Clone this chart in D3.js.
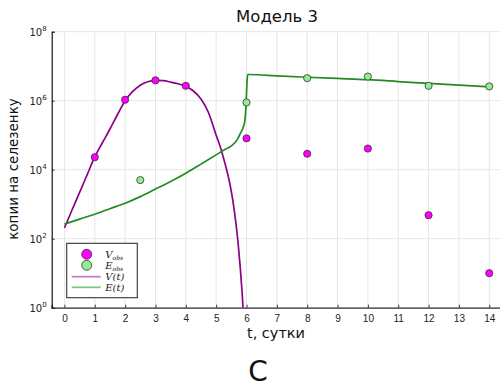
<!doctype html>
<html>
<head>
  <meta charset="utf-8">
  <style>
    body { margin:0; background:#fff; }
    svg { display:block; font-family:"DejaVu Sans", sans-serif; }
    .grid line { stroke:#e6e6e6; stroke-width:1; }
    .tick text { font-size:10px; fill:#222; }
  </style>
  <script src="https://cdn.jsdelivr.net/npm/d3@7"></script>
</head>
<body>
  <script>
    // observations
    var vObsT = [1, 2, 3, 4, 6, 8, 10, 12, 14];
    var vObs  = [2.3e4, 1.07e6, 3.9e6, 2.7e6, 8.1e4, 2.9e4, 4.1e4, 480, 10];
    var eObsT = [2.5, 6, 8, 10, 12, 14];
    var eObs  = [5.0e3, 8.9e5, 4.5e6, 5.0e6, 2.7e6, 2.6e6];

    // model curves V(t), E(t)
    var vT = [0,0.25,0.5,0.75,1,1.25,1.5,1.75,2,2.25,2.5,2.75,3,3.25,3.5,3.75,4,4.25,4.5,4.75,5,5.15,5.3,5.45,5.55,5.65,5.72,5.79,5.85,5.9];
    var vT_vals = [205,680,2200,7200,23400,60300,151000,398000,1.0e6,1.86e6,2.82e6,3.55e6,3.89e6,3.8e6,3.47e6,3.09e6,2.63e6,1.91e6,1.12e6,4.47e5,1.0e5,4.17e4,1.41e4,3980,1260,282,79,16,3.2,0.63];
    var eT = [0,0.5,1,1.5,2,2.5,3,3.5,4,4.5,5,5.3,5.5,5.7,5.8,5.9,5.95,5.98,6.0,6.02,6.04,6.1,7,8,9,10,11,12,13,14];
    var eT_vals = [265,370,513,741,1070,1660,2750,4570,7940,14500,26900,38900,49000,75900,115000,178000,282000,631000,1.58e6,3.98e6,5.75e6,5.75e6,5.25e6,4.79e6,4.42e6,4.07e6,3.59e6,3.16e6,2.82e6,2.51e6];

    var xTicks = d3.range(0, 15);
    var yTicks = [1, 1e2, 1e4, 1e6, 1e8];
    var yExp   = ["0", "2", "4", "6", "8"];

    var W = 500, H = 388;
    var pLeft = 51.7, pRight = 502, pTop = 31.7, pBottom = 307.7;

    var x = d3.scaleLinear().domain([-0.42, 14.42]).range([pLeft, pRight]);
    var y = d3.scaleLog().domain([1, 1e8]).range([pBottom, pTop]);

    var svg = d3.select("body").append("svg")
       .attr("width", W).attr("height", H);

    svg.append("clipPath").attr("id", "plotclip")
       .append("rect")
       .attr("x", pLeft).attr("y", pTop)
       .attr("width", pRight - pLeft).attr("height", pBottom - pTop);

    // grid
    var grid = svg.append("g").attr("class", "grid");
    grid.selectAll(".gx").data(xTicks).enter().append("line")
       .attr("x1", function(d) { return x(d); })
       .attr("x2", function(d) { return x(d); })
       .attr("y1", pTop).attr("y2", pBottom);
    grid.selectAll(".gy").data(yTicks).enter().append("line")
       .attr("x1", pLeft).attr("x2", pRight)
       .attr("y1", function(d) { return y(d); })
       .attr("y2", function(d) { return y(d); });

    // axes
    var xAxis = svg.append("g")
       .attr("transform", "translate(0," + pBottom + ")")
       .call(d3.axisBottom(x).tickValues(xTicks).tickSize(-3).tickPadding(7).tickFormat(d3.format("d")));
    xAxis.select(".domain").attr("stroke", "#333").attr("stroke-width", 1.3);
    xAxis.selectAll(".tick line").attr("stroke", "#333");

    var yAxis = svg.append("g")
       .attr("transform", "translate(" + pLeft + ",0)")
       .call(d3.axisLeft(y).tickValues(yTicks).tickSize(-3).tickFormat(""));
    yAxis.select(".domain").attr("stroke", "#000").attr("stroke-width", 1.1);
    yAxis.selectAll(".tick line").attr("stroke", "#333");

    var yl = svg.append("g").selectAll("text").data(yTicks).enter().append("text")
       .attr("x", pLeft - 5)
       .attr("y", function(d) { return y(d) + 4; })
       .attr("text-anchor", "end")
       .style("font-size", "10px").style("fill", "#222");
    yl.append("tspan").text("10");
    yl.append("tspan").attr("dy", -5).style("font-size", "7px")
       .text(function(d, i) { return yExp[i]; });

    // curves
    var line = d3.line()
       .x(function(d) { return x(d[0]); })
       .y(function(d) { return y(d[1]); })
       .curve(d3.curveMonotoneX);

    var curves = svg.append("g").attr("clip-path", "url(#plotclip)");
    curves.append("path")
       .datum(d3.zip(vT, vT_vals))
       .attr("d", line)
       .attr("fill", "none").attr("stroke", "#8b008b").attr("stroke-width", 1.7);
    curves.append("path")
       .datum(d3.zip(eT, eT_vals))
       .attr("d", line)
       .attr("fill", "none").attr("stroke", "#228b22").attr("stroke-width", 1.7);

    // points
    svg.append("g").selectAll("circle").data(d3.zip(vObsT, vObs)).enter().append("circle")
       .attr("cx", function(d) { return x(d[0]); })
       .attr("cy", function(d) { return y(d[1]); })
       .attr("r", 3.6)
       .attr("fill", "#ff00ff").attr("stroke", "#333").attr("stroke-width", 0.8);
    svg.append("g").selectAll("circle").data(d3.zip(eObsT, eObs)).enter().append("circle")
       .attr("cx", function(d) { return x(d[0]); })
       .attr("cy", function(d) { return y(d[1]); })
       .attr("r", 3.6)
       .attr("fill", "#90ee90").attr("stroke", "#333").attr("stroke-width", 0.8);

    // legend
    var lg = svg.append("g");
    lg.append("rect")
       .attr("x", 66.7).attr("y", 243.3).attr("width", 70.6).attr("height", 54.4)
       .attr("fill", "#fff").attr("stroke", "#333").attr("stroke-width", 1.1);
    lg.append("circle").attr("cx", 86.7).attr("cy", 254.3).attr("r", 5)
       .attr("fill", "#ff00ff").attr("stroke", "#333").attr("stroke-width", 0.8);
    lg.append("circle").attr("cx", 86.7).attr("cy", 265.3).attr("r", 5)
       .attr("fill", "#90ee90").attr("stroke", "#333").attr("stroke-width", 0.8);
    lg.append("line").attr("x1", 71.7).attr("x2", 100.7).attr("y1", 276.7).attr("y2", 276.7)
       .attr("stroke", "#c77dcf").attr("stroke-width", 1.8);
    lg.append("line").attr("x1", 71.7).attr("x2", 100.7).attr("y1", 287.3).attr("y2", 287.3)
       .attr("stroke", "#86c586").attr("stroke-width", 1.8);

    var labs = [["V", "obs"], ["E", "obs"], ["V(t)", ""], ["E(t)", ""]];
    var lt = lg.selectAll(".lt").data(labs).enter().append("text")
       .attr("x", 105.3)
       .attr("y", function(d, i) { return 258 + i * 10.9; })
       .style("font-family", "'DejaVu Serif', serif").style("font-style", "italic")
       .style("font-size", "10px").style("fill", "#222");
    lt.append("tspan").text(function(d) { return d[0]; });
    lt.append("tspan").attr("dy", 2).style("font-size", "6px").text(function(d) { return d[1]; });

    // titles
    svg.append("text").attr("x", 277).attr("y", 22).attr("text-anchor", "middle")
       .style("font-size", "16.5px").style("fill", "#111").text("Модель 3");
    svg.append("text").attr("x", 276).attr("y", 338).attr("text-anchor", "middle")
       .style("font-size", "14.5px").style("fill", "#111").text("t, сутки");
    svg.append("text").attr("transform", "translate(18,169) rotate(-90)")
       .attr("text-anchor", "middle")
       .style("font-size", "13.5px").style("fill", "#111").text("копии на селезенку");
    svg.append("text").attr("x", 258).attr("y", 381).attr("text-anchor", "middle")
       .style("font-size", "28px").style("fill", "#111").text("C");
  </script>
</body>
</html>
